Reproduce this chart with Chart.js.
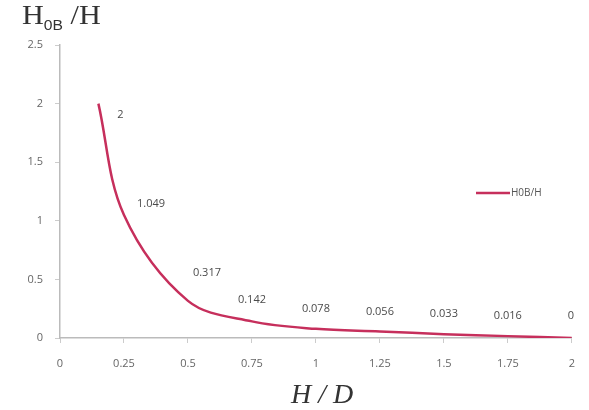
<!DOCTYPE html>
<html>
<head>
<meta charset="utf-8">
<script src="https://cdn.jsdelivr.net/npm/chart.js@4"></script>
<style>
    html, body { margin: 0; padding: 0; background: #fff; }
    #wrap { position: relative; width: 589px; height: 410px; }
    #yTitle {
        position: absolute; left: 22px; top: 0px;
        font-family: "Liberation Serif", serif; font-size: 27px; color: #333;
        transform: scaleX(1.12); transform-origin: left top; white-space: nowrap;
    }
    #yTitle sub { font-size: 14px; vertical-align: -6px; font-family: "Liberation Sans", sans-serif; }
    #xTitle {
        position: absolute; left: 291px; top: 378px;
        font-family: "Liberation Serif", serif; font-style: italic; font-size: 28px; color: #333;
        white-space: nowrap;
    }
</style>
</head>
<body>
<div id="wrap">
    <canvas id="chart" width="589" height="410"></canvas>
    <div id="yTitle">H<sub>0B</sub> /H</div>
    <div id="xTitle">H / D</div>
</div>
<script>
// Данные графика
const hd = [0.15, 0.25, 0.5, 0.75, 1, 1.25, 1.5, 1.75, 2];
const ratio = [2, 1.049, 0.317, 0.142, 0.078, 0.056, 0.033, 0.016, 0];
const pointLabels = ['2', '1.049', '0.317', '0.142', '0.078', '0.056', '0.033', '0.016', '0'];
const seriesName = 'H0B/H';

// Смещения подписей относительно точек
const labelShift = [[22, 11], [27, -11], [19, -28], [0, -21], [0, -20], [0, -20], [0, -20], [0, -20], [-1, -22]];

const lineColor = '#c62f5c';

const valueLabels = {
    id: 'valueLabels',
    afterDatasetsDraw(chart) {
        const ctx = chart.ctx;
        const meta = chart.getDatasetMeta(0);
        ctx.save();
        ctx.font = '11px "Open Sans", sans-serif';
        ctx.fillStyle = '#4a4a4a';
        ctx.textAlign = 'center';
        ctx.textBaseline = 'middle';
        meta.data.forEach((pt, i) => {
            ctx.fillText(pointLabels[i], pt.x + labelShift[i][0], pt.y + labelShift[i][1]);
        });

        // Легенда справа
        ctx.strokeStyle = lineColor;
        ctx.lineWidth = 2.5;
        ctx.beginPath();
        ctx.moveTo(476, 193);
        ctx.lineTo(510, 193);
        ctx.stroke();
        ctx.font = '10px "Open Sans", sans-serif';
        ctx.fillStyle = '#555';
        ctx.textAlign = 'left';
        ctx.fillText(seriesName, 511, 193);
        ctx.restore();
    }
};

new Chart(document.getElementById('chart'), {
    type: 'line',
    data: {
        datasets: [{
            label: seriesName,
            data: hd.map((x, i) => ({ x: x, y: ratio[i] })),
            borderColor: lineColor,
            borderWidth: 2.5,
            pointRadius: 0,
            tension: 0.35,
            fill: false
        }]
    },
    options: {
        responsive: false,
        animation: false,
        layout: { padding: { top: 45, right: 14, left: 0, bottom: 0 } },
        plugins: {
            legend: { display: false },
            tooltip: { enabled: false }
        },
        scales: {
            x: {
                type: 'linear',
                min: 0,
                max: 2,
                afterFit: s => { s.height = 72; },
                ticks: {
                    stepSize: 0.25,
                    padding: 14,
                    color: '#666',
                    font: { family: 'Open Sans', size: 11 },
                    maxRotation: 0,
                    callback: v => String(v)
                },
                grid: { drawOnChartArea: false, drawTicks: true, tickLength: 5, color: '#ccc' },
                border: { color: '#bbb', width: 1.5 }
            },
            y: {
                min: 0,
                max: 2.5,
                afterFit: s => { s.width = 60; },
                ticks: {
                    stepSize: 0.5,
                    padding: 12,
                    color: '#666',
                    font: { family: 'Open Sans', size: 11 },
                    callback: v => String(v)
                },
                grid: { drawOnChartArea: false, drawTicks: true, tickLength: 5, color: '#ccc' },
                border: { color: '#bbb', width: 1.5 }
            }
        }
    },
    plugins: [valueLabels]
});
</script>
</body>
</html>
